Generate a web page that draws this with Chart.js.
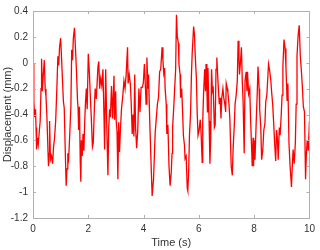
<!DOCTYPE html>
<html>
<head>
<meta charset="utf-8">
<script src="https://cdn.jsdelivr.net/npm/chart.js@4/dist/chart.umd.min.js"></script>
<style>
  html, body { margin: 0; padding: 0; background: #fff; }
  #wrap { width: 320px; height: 250px; }
</style>
</head>
<body>
<div id="wrap"><canvas id="myChart"></canvas></div>
<script>
// time (s) and displacement (mm)
const times = [
  0.00, 0.03, 0.06, 0.09, 0.11, 0.13, 0.16, 0.19, 0.22, 0.26, 0.29, 0.31, 0.34, 0.37, 0.41, 0.44, 0.47, 0.50, 0.53, 0.56,
  0.58, 0.60, 0.63, 0.67, 0.71, 0.74, 0.78, 0.82, 0.86, 0.90, 0.93, 0.96, 1.00, 1.03, 1.06, 1.10, 1.13, 1.16, 1.20, 1.23,
  1.26, 1.29, 1.33, 1.37, 1.40, 1.43, 1.46, 1.50, 1.53, 1.57, 1.61, 1.63, 1.65, 1.68, 1.71, 1.73, 1.75, 1.78, 1.81, 1.84,
  1.87, 1.90, 1.93, 1.96, 2.00, 2.04, 2.07, 2.11, 2.15, 2.18, 2.22, 2.25, 2.29, 2.35, 2.38, 2.41, 2.45, 2.49, 2.53, 2.57,
  2.59, 2.63, 2.67, 2.71, 2.74, 2.77, 2.80, 2.84, 2.88, 2.93, 2.95, 2.99, 3.01, 3.04, 3.07, 3.10, 3.13, 3.16, 3.20, 3.25,
  3.29, 3.33, 3.37, 3.42, 3.44, 3.48, 3.52, 3.55, 3.59, 3.62, 3.65, 3.68, 3.71, 3.75, 3.79, 3.83, 3.87, 3.91, 3.95, 3.99,
  4.03, 4.07, 4.09, 4.12, 4.16, 4.18, 4.22, 4.27, 4.31, 4.36, 4.39, 4.42, 4.46, 4.50, 4.54, 4.58, 4.62, 4.67, 4.70, 4.73,
  4.76, 4.78, 4.82, 4.84, 4.88, 4.92, 4.96, 5.00, 5.03, 5.05, 5.09, 5.12, 5.16, 5.19, 5.22, 5.26, 5.28, 5.32, 5.34, 5.38,
  5.41, 5.44, 5.48, 5.50, 5.54, 5.58, 5.60, 5.63, 5.66, 5.70, 5.73, 5.76, 5.81, 5.84, 5.87, 5.91, 5.94, 5.97, 6.01, 6.05,
  6.08, 6.12, 6.14, 6.17, 6.21, 6.24, 6.26, 6.29, 6.31, 6.33, 6.37, 6.40, 6.43, 6.46, 6.49, 6.52, 6.56, 6.59, 6.62, 6.65,
  6.69, 6.72, 6.74, 6.77, 6.80, 6.83, 6.87, 6.90, 6.94, 6.97, 6.99, 7.03, 7.05, 7.09, 7.12, 7.17, 7.21, 7.24, 7.28, 7.31,
  7.35, 7.39, 7.42, 7.45, 7.47, 7.50, 7.54, 7.57, 7.60, 7.64, 7.67, 7.71, 7.74, 7.76, 7.80, 7.84, 7.87, 7.91, 7.93, 7.96,
  7.98, 8.00, 8.03, 8.08, 8.11, 8.14, 8.18, 8.20, 8.24, 8.27, 8.31, 8.35, 8.39, 8.42, 8.46, 8.49, 8.52, 8.56, 8.60, 8.63,
  8.67, 8.71, 8.74, 8.78, 8.81, 8.84, 8.87, 8.91, 8.94, 8.98, 9.01, 9.04, 9.08, 9.12, 9.15, 9.19, 9.22, 9.26, 9.30, 9.35,
  9.38, 9.41, 9.45, 9.49, 9.52, 9.55, 9.59, 9.63, 9.67, 9.71, 9.74, 9.78, 9.82, 9.86, 9.89, 9.92, 9.96, 10.00
];
const displacement = [
  -0.01, -0.30, -0.42, -0.36, -0.50, -0.67, -0.58, -0.63, -0.55, -0.45, -0.20, 0.03, -0.22, -0.10, 0.02, -0.20, -0.26, -0.40, -0.60, -0.80,
  -0.70, -0.45, -0.75, -0.72, -0.78, -0.66, -0.58, -0.45, -0.22, 0.05, -0.02, 0.12, 0.19, 0.05, -0.10, -0.30, -0.35, -0.62, -0.95, -0.82,
  -0.70, -0.74, -0.55, -0.34, 0.10, 0.02, 0.19, 0.27, 0.14, -0.05, -0.29, -0.35, -0.52, -0.34, -0.77, -0.92, -0.60, -0.72, -0.55, -0.68,
  -0.46, -0.30, -0.20, -0.36, 0.07, -0.08, -0.24, -0.43, -0.65, -0.62, -0.35, -0.20, -0.28, -0.03, 0.01, -0.20, -0.12, -0.18, -0.05, -0.43,
  -0.67, -0.05, -0.50, -0.87, -0.50, -0.36, -0.42, -0.18, -0.43, -0.10, -0.44, -0.22, -0.45, -0.53, -0.90, -0.46, -0.69, -0.53, -0.36, -0.25,
  -0.14, -0.20, -0.09, 0.12, -0.16, -0.09, -0.16, -0.30, -0.55, -0.40, -0.57, -0.09, -0.50, -0.66, -0.52, -0.20, -0.38, -0.19, -0.19, -0.16,
  -0.01, -0.20, -0.32, 0.04, -0.20, -0.09, -0.43, -0.77, -1.03, -0.90, -0.72, -0.54, -0.43, -0.32, -0.27, -0.07, -0.05, 0.12, 0.02, -0.08,
  -0.04, -0.20, -0.32, -0.55, -0.48, -0.80, -0.95, -0.85, -0.70, -0.50, -0.35, -0.22, -0.05, 0.37, 0.20, 0.15, -0.01, -0.09, -0.27, -0.20,
  -0.37, -0.56, -0.64, -0.74, -0.72, -0.97, -0.99, -0.85, -0.56, -0.39, -0.10, 0.08, 0.28, 0.22, 0.05, -0.12, -0.39, -0.56, -0.52, -0.44,
  -0.54, -0.77, -0.45, -0.24, -0.05, -0.22, -0.01, -0.20, -0.38, -0.04, -0.45, -0.78, -0.58, -0.05, -0.22, -0.20, -0.50, -0.48, -0.05, 0.04,
  -0.14, -0.25, -0.32, -0.27, -0.43, -0.27, -0.20, -0.27, -0.32, -0.38, -0.16, -0.20, -0.23, -0.32, -0.43, -0.80, -0.87, -0.66, -0.49, -0.32,
  -0.25, -0.14, 0.17, 0.04, -0.09, -0.01, 0.12, -0.14, -0.30, -0.70, -0.14, -0.07, -0.22, -0.07, -0.24, -0.20, -0.43, -0.67, -0.80, -0.58,
  -0.80, -0.60, -0.75, -0.42, -0.25, -0.03, -0.20, -0.36, -0.50, -0.75, -0.68, -0.52, -0.47, -0.30, -0.25, -0.13, -0.01, -0.06, -0.13, -0.22,
  -0.32, -0.48, -0.62, -0.76, -0.52, -0.58, -0.75, -0.50, -0.56, -0.40, -0.25, -0.03, 0.18, 0.11, -0.03, -0.29, -0.16, -0.62, -0.80, -0.96,
  -0.80, -0.67, -0.78, -0.62, -0.32, 0.05, 0.21, 0.29, 0.05, -0.07, -0.17, -0.34, -0.38, -0.90, -0.70, -0.60, -0.68, -0.45
];
const xTicks = [0, 2, 4, 6, 8, 10];
const yTicks = [-1.2, -1, -0.8, -0.6, -0.4, -0.2, 0, 0.2, 0.4];

const axisColor = '#333333';
const boxColor = '#b0b0b0';
const FONT = 'Liberation Sans, Arial, Helvetica, sans-serif';

let points = times.map((t, i) => ({ x: t, y: displacement[i] }));

// matlab style box with inward ticks
const boxPlugin = {
    id: 'box',
    afterDraw(chart) {
        const c = chart.ctx;
        const a = chart.chartArea;
        const xs = chart.scales.x;
        const ys = chart.scales.y;
        c.save();
        c.strokeStyle = boxColor;
        c.lineWidth = 1;
        c.strokeRect(Math.round(a.left) + 0.5, Math.round(a.top) + 0.5,
            Math.round(a.right - a.left), Math.round(a.bottom - a.top));
        c.beginPath();
        for (let v of xTicks) {
            const px = Math.round(xs.getPixelForValue(v)) + 0.5;
            c.moveTo(px, a.bottom); c.lineTo(px, a.bottom - 3);
            c.moveTo(px, a.top); c.lineTo(px, a.top + 3);
        }
        for (let v of yTicks) {
            const py = Math.round(ys.getPixelForValue(v)) + 0.5;
            c.moveTo(a.left, py); c.lineTo(a.left + 3, py);
            c.moveTo(a.right, py); c.lineTo(a.right - 3, py);
        }
        c.stroke();
        c.restore();
    }
};

const data = {
    datasets: [{
        label: 'Displacement',
        data: points,
        borderColor: 'rgb(255,0,0)',
        borderWidth: 1.3,
        pointRadius: 0,
        tension: 0,
        fill: false
    }]
};

const config = {
    type: 'line',
    data: data,
    options: {
        responsive: false,
        animation: false,
        events: [],
        layout: { padding: { top: 8, right: 9, left: 0, bottom: 0 } },
        plugins: {
            legend: { display: false },
            tooltip: { enabled: false }
        },
        scales: {
            x: {
                type: 'linear',
                min: 0,
                max: 10,
                afterBuildTicks: s => { s.ticks = xTicks.map(v => ({ value: v })); },
                afterFit: s => { s.height = 32; },
                grid: { display: false, drawTicks: false },
                border: { display: false },
                ticks: { color: axisColor, font: { family: FONT, size: 10 }, padding: 5, maxRotation: 0 },
                title: { display: true, text: 'Time (s)', color: axisColor, font: { family: FONT, size: 11 }, padding: { top: 1, bottom: 0 } }
            },
            y: {
                type: 'linear',
                min: -1.2,
                max: 0.4,
                afterBuildTicks: s => { s.ticks = yTicks.map(v => ({ value: v })); },
                afterFit: s => { s.width = 33; },
                grid: { display: false, drawTicks: false },
                border: { display: false },
                ticks: {
                    color: axisColor, font: { family: FONT, size: 10 }, padding: 5,
                    callback: v => String(Number(v.toFixed(1)))
                },
                title: { display: true, text: 'Displacement (mm)', color: axisColor, font: { family: FONT, size: 11 }, padding: { top: 1, bottom: 0 } }
            }
        }
    },
    plugins: [boxPlugin]
};

let canvas = document.getElementById('myChart');
canvas.width = 320;
canvas.height = 250;
let myChart = new Chart(canvas, config);
</script>
</body>
</html>
